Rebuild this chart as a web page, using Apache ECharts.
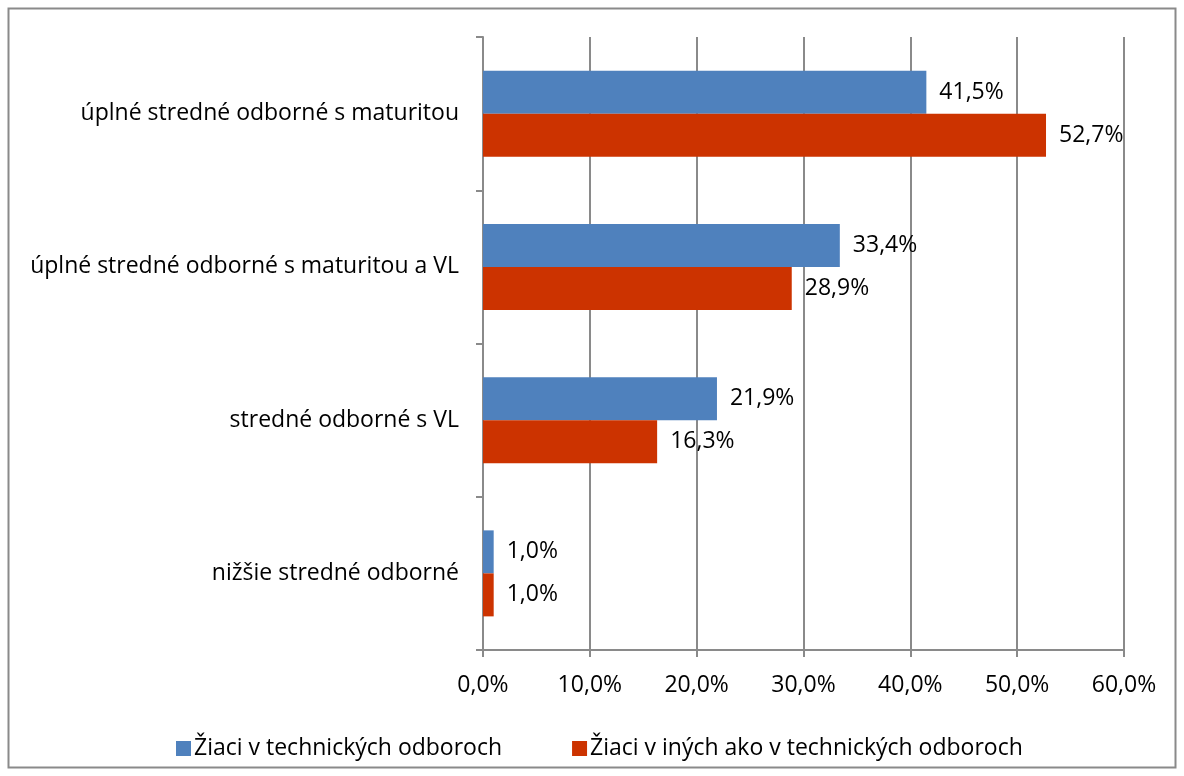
<!DOCTYPE html>
<html><head><meta charset="utf-8">
<script src="https://cdn.jsdelivr.net/npm/echarts@6/dist/echarts.min.js"></script>
<style>html,body{margin:0;padding:0;background:#fff}#c{width:1184px;height:776px}</style>
</head><body><div id="c"></div>
<script>
const categories = ['nižšie stredné odborné','stredné odborné s VL','úplné stredné odborné s maturitou a VL','úplné stredné odborné s maturitou'];
const seriesNames = ['Žiaci v technických odboroch','Žiaci v iných ako v technických odboroch'];
const technical = [1.0, 21.9, 33.4, 41.5];
const other = [1.0, 16.3, 28.9, 52.7];
const xTicks = [0,10,20,30,40,50,60];

const FONT = 'Open Sans';
const FS = 23;
const fmt = v => v.toFixed(1).replace('.', ',') + '%';
const chart = echarts.init(document.getElementById('c'));
const lbl = {show:true, position:'right', distance:13, color:'#000', fontFamily:FONT, fontSize:FS, formatter:p=>fmt(p.value)};
chart.setOption({
  animation:false,
  graphic:[{type:'rect', shape:{x:8.5,y:8.5,width:1167,height:759}, style:{fill:'none', stroke:'#8a8a8a', lineWidth:2}}],
  grid:{left:483, right:60, top:37, bottom:126},
  legend:{top:737, left:176, padding:0, itemWidth:15, itemHeight:15, itemGap:70, icon:'rect',
    textStyle:{fontFamily:FONT, fontSize:FS, color:'#000', padding:[0,0,0,-2]}, data:seriesNames},
  xAxis:{type:'value', min:0, max:60, interval:10,
    axisLine:{show:true, lineStyle:{color:'#8a8a8a', width:2}},
    axisTick:{show:true, length:7, lineStyle:{color:'#8a8a8a', width:2}},
    splitLine:{show:true, lineStyle:{color:'#8a8a8a', width:2}},
    axisLabel:{fontFamily:FONT, fontSize:FS, color:'#000', margin:24, formatter:v=>fmt(v)}},
  yAxis:{type:'category', data:categories,
    axisLine:{show:true, lineStyle:{color:'#8a8a8a', width:2}},
    axisTick:{show:true, length:7, lineStyle:{color:'#8a8a8a', width:2}},
    axisLabel:{fontFamily:FONT, fontSize:FS, color:'#000', margin:24}},
  series:[
    {name:seriesNames[0], type:'bar', data:technical, barWidth:43, barGap:'0%', itemStyle:{color:'#4f81bd'}, label:lbl},
    {name:seriesNames[1], type:'bar', data:other, barWidth:43, barGap:'0%', itemStyle:{color:'#cc3300'}, label:lbl}
  ]
});
</script></body></html>
